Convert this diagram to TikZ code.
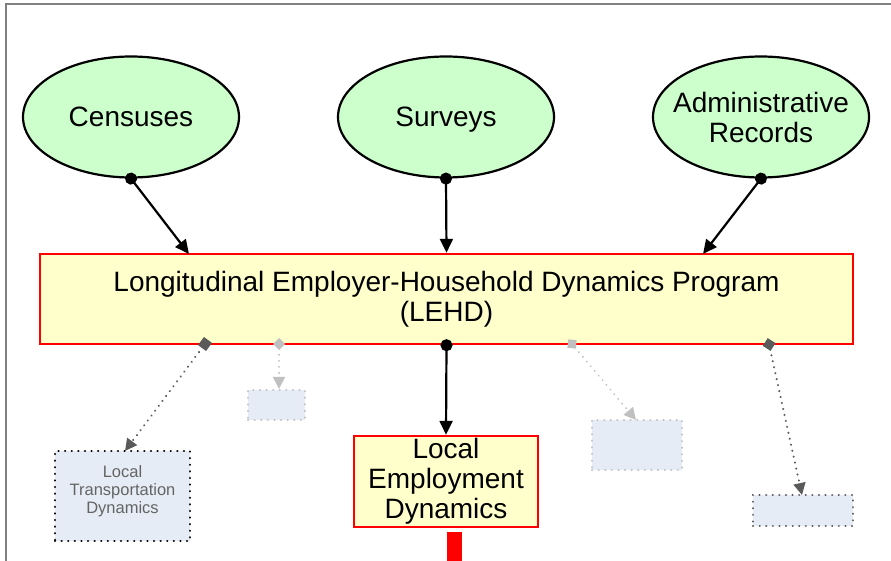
\documentclass[tikz,border=0pt]{standalone}
\usepackage{fontspec}
\setmainfont{Liberation Sans}
\usetikzlibrary{arrows.meta,shapes.geometric}
\definecolor{srcgreen}{RGB}{204,255,204}
\definecolor{progyellow}{RGB}{255,255,204}
\definecolor{ghostfill}{RGB}{230,236,246}
\definecolor{darkc}{RGB}{90,90,90}
\definecolor{lightc}{RGB}{192,192,192}
\definecolor{textgray}{RGB}{100,100,100}
\begin{document}
\begin{tikzpicture}[x=1pt,y=-1pt,
  src/.style={ellipse,draw=black,line width=2.2pt,fill=srcgreen,minimum width=216pt,minimum height=121pt,inner sep=0pt,align=center,font=\fontsize{28}{30}\selectfont},
  prog/.style={rectangle,draw=red,line width=2.4pt,fill=progyellow,inner sep=0pt,align=center,font=\fontsize{28}{30}\selectfont},
  ghostdark/.style={rectangle,draw=black,line width=2.4pt,dash pattern=on 0.1pt off 6.5pt,line cap=round,fill=ghostfill,inner sep=0pt,align=center,text=textgray,font=\fontsize{16.5}{18}\selectfont},
  ghostlight/.style={rectangle,draw=lightc,line width=2.2pt,dash pattern=on 0.1pt off 6.5pt,line cap=round,fill=ghostfill,inner sep=0pt},
  solidarr/.style={line width=2.2pt,{Circle[length=12pt]}-{Triangle[length=14pt,width=13pt]},shorten <=-6pt},
  dotdark/.style={draw=darkc,line width=2.2pt,line cap=round,dash pattern=on 0.1pt off 6pt,{Square[length=10pt,width=10pt,line cap=butt,sep=0pt]}-{Triangle[length=12pt,width=12pt]},shorten <=-5pt},
  dotdarkd/.style={draw=darkc,line width=2.2pt,line cap=round,dash pattern=on 0.1pt off 6pt,{Diamond[length=13pt,width=13pt]}-{Triangle[length=12pt,width=12pt]},shorten <=-6pt},
  dotlight/.style={draw=lightc,line width=2pt,line cap=round,dash pattern=on 0.1pt off 6pt,{Diamond[length=12pt,width=12pt]}-{Triangle[length=12pt,width=12pt]},shorten <=-6pt},
]
\useasboundingbox (0,0) rectangle (891,561);
\draw[draw=gray,line width=1.5pt] (6,561) -- (6,4) -- (891,4);

\node[src] (cen) at (131,117) {Censuses};
\node[src,text depth=0pt] (sur) at (446,117) {Surveys};
\node[src,inner xsep=-12pt] (adm) at (761,117) {Administrative\\Records};

\node[prog,minimum width=813pt,minimum height=90pt] (lehd) at (446.5,299) {Longitudinal Employer-Household Dynamics Program\\(LEHD)};
\node[prog,minimum width=184pt,minimum height=91pt] (led) at (446,481.5) {Local\\Employment\\Dynamics};

\node[ghostdark,minimum width=135pt,minimum height=90pt,text depth=12pt] (ltd) at (122.5,496) {Local\\Transportation\\Dynamics};
\node[ghostlight,minimum width=57pt,minimum height=30pt] (g1) at (276.5,405) {};
\node[ghostlight,minimum width=90pt,minimum height=50pt] (g2) at (637,445) {};
\node[ghostlight,draw=darkc,minimum width=100pt,minimum height=31pt] (g3) at (803,510.5) {};

\fill[red] (447,532) rectangle (462,561);

\coordinate (t1) at (189,254);
\coordinate (t3) at (703,254);
\coordinate (b1) at (205,344);
\coordinate (b2) at (279,344);
\coordinate (b4) at (572,344);
\coordinate (b5) at (769,344);
\coordinate (e1) at (125,451);
\coordinate (e4) at (636,420);
\coordinate (e5) at (802,495);

\draw[solidarr] (cen.south) -- (t1);
\draw[solidarr] (sur.south) -- (lehd.north);
\draw[solidarr] (adm.south) -- (t3);
\draw[solidarr] (lehd.south) -- (led.north);

\draw[dotdark] (b1) -- (e1);
\draw[dotlight] (b2) -- (g1.north -| b2);
\draw[dotlight] (b4) -- (e4);
\draw[dotdarkd] (b5) -- (e5);
\end{tikzpicture}
\end{document}
